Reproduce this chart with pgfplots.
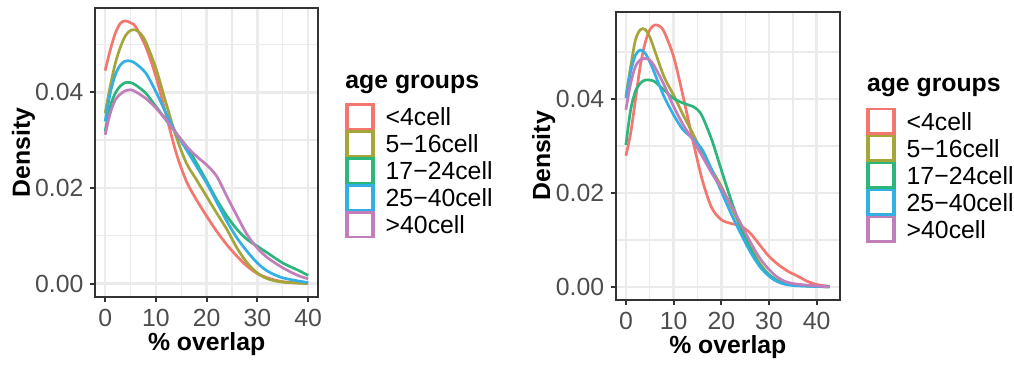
\documentclass[border=0pt]{standalone}
\usepackage{fontspec}
\setmainfont{Liberation Sans}
\usepackage{pgfplots}
\pgfplotsset{compat=1.18}
\definecolor{cA}{HTML}{F3776E}
\definecolor{cB}{HTML}{A4A63A}
\definecolor{cC}{HTML}{2DB67B}
\definecolor{cD}{HTML}{33AFE4}
\definecolor{cE}{HTML}{C27DBB}
\definecolor{gridc}{HTML}{EBEBEB}
\definecolor{bord}{HTML}{333333}
\definecolor{tickt}{HTML}{4D4D4D}
\newcommand{\fs}{\fontsize{12.4}{14}\selectfont}
\pgfplotsset{
  dens/.style={
    scale only axis,
    axis line style={bord, line width=1pt},
    tick style={bord, line width=1pt},
    tick align=outside,
    major tick length=2.5pt,
    minor tick length=0pt,
    xtick={0,10,20,30,40},
    minor xtick={5,15,25,35},
    ytick={0,0.02,0.04},
    minor ytick={0.01,0.03,0.05},
    grid=both,
    major grid style={gridc, line width=1.35pt},
    minor grid style={gridc, line width=0.65pt},
    tick pos=left,
    scaled y ticks=false,
    /pgf/number format/assume math mode=true,
    yticklabel style={/pgf/number format/fixed, /pgf/number format/fixed zerofill, /pgf/number format/precision=2, anchor=east, inner sep=0pt, xshift=-3.1pt},
    xticklabel style={anchor=north, inner sep=0pt, yshift=-3.3pt},
    ticklabel style={font=\fs, text=tickt},
    no markers,
    every axis plot/.append style={line width=1.35pt, smooth},
    legend style={draw=none, fill=none, inner sep=0pt, outer sep=0pt, row sep=0pt, column sep=5.5pt, font=\fs, anchor=north west, nodes={inner sep=0pt, outer sep=0pt, text depth=0pt}},
    legend cell align=left,
    legend image code/.code={\path (0pt,-6pt) rectangle (13.5pt,6pt); \draw[#1, fill=white, line width=1.2pt] (0.6pt,-6.15pt) rectangle (12.9pt,6.15pt);},
  }
}
\begin{document}
\begin{tikzpicture}
\useasboundingbox (0,0) rectangle (507pt,-182.5pt);
% ---------------- left panel ----------------
\begin{axis}[dens,
  at={(47.5pt,-148.35pt)}, anchor=south west,
  width=111.65pt, height=144.2pt,
  xmin=-2.0, xmax=42.0, ymin=-0.00274, ymax=0.05753,
  xlabel={\% overlap}, ylabel={Density},
  every axis x label/.style={at={(axis description cs:0.5,-0.123)}, anchor=north, inner sep=0pt, font=\fs\bfseries},
  every axis y label/.style={at={(axis description cs:-0.3735,0.5)}, rotate=90, anchor=north, inner sep=0pt, font=\fs\bfseries},
  legend style={at={(axis description cs:1.1196,0.6706)}},
]
\addplot[cA] table {
0 0.0445
1 0.0488
2 0.0523
3 0.0544
4 0.0549
5 0.0545
6 0.0537
8 0.0495
10 0.0433
12 0.0353
14 0.0273
16 0.0214
18 0.0175
20 0.0141
22 0.0109
24 0.0081
26 0.0057
28 0.0036
30 0.0021
32 0.0012
35 0.0004
40 0.0000
};
\addlegendentry{<4cell}
\addplot[cB] table {
0 0.0356
1 0.0412
2 0.0460
3 0.0494
4 0.0518
5 0.0529
6 0.0530
7 0.0522
8 0.0505
10 0.0450
12 0.0377
14 0.0307
16 0.0252
18 0.0217
20 0.0182
22 0.0147
24 0.0113
26 0.0074
28 0.0043
30 0.0022
32 0.0010
35 0.0003
40 0.0000
};
\addlegendentry{5−16cell}
\addplot[cC] table {
0 0.0318
1 0.0370
2 0.0398
3 0.0413
4 0.0420
5 0.0420
6 0.0415
8 0.0398
10 0.0370
12 0.0342
14 0.0314
16 0.0287
18 0.0252
20 0.0214
22 0.0175
24 0.0141
26 0.0113
28 0.0092
30 0.0078
32 0.0064
35 0.0043
38 0.0028
40 0.0017
};
\addlegendentry{17−24cell}
\addplot[cD] table {
0 0.0339
1 0.0398
2 0.0436
3 0.0457
4 0.0465
5 0.0465
6 0.0460
8 0.0440
10 0.0401
12 0.0356
14 0.0314
16 0.0280
18 0.0245
20 0.0210
22 0.0170
24 0.0130
26 0.0095
28 0.0067
30 0.0043
32 0.0026
35 0.0012
40 0.0002
};
\addlegendentry{25−40cell}
\addplot[cE] table {
0 0.0311
1 0.0356
2 0.0384
3 0.0396
4 0.0403
5 0.0405
6 0.0401
8 0.0387
10 0.0367
12 0.0342
14 0.0314
16 0.0287
18 0.0266
20 0.0248
22 0.0224
24 0.0182
26 0.0141
28 0.0102
30 0.0074
32 0.0054
35 0.0033
38 0.0017
40 0.0010
};
\addlegendentry{>40cell}
\end{axis}
\node[anchor=base west, inner sep=0pt, font=\fs\bfseries] at (172.5pt,-44.15pt) {age groups};
% ---------------- right panel ----------------
\begin{axis}[dens,
  at={(307.85pt,-150pt)}, anchor=south west,
  width=112.15pt, height=144.15pt,
  xmin=-2.137, xmax=44.88, ymin=-0.00279, ymax=0.05855,
  xlabel={\% overlap}, ylabel={Density},
  every axis x label/.style={at={(axis description cs:0.5,-0.123)}, anchor=north, inner sep=0pt, font=\fs\bfseries},
  every axis y label/.style={at={(axis description cs:-0.3745,0.5)}, rotate=90, anchor=north, inner sep=0pt, font=\fs\bfseries},
  legend style={at={(axis description cs:1.1159,0.667)}},
]
\addplot[cA] table {
0 0.0279
1 0.0327
2 0.0398
3 0.0469
4 0.0518
5 0.0547
6 0.0557
7 0.0555
8 0.0543
10 0.0490
12 0.0405
14 0.0313
16 0.0228
18 0.0168
20 0.0143
22 0.0135
24 0.0130
26 0.0115
28 0.0090
30 0.0065
32 0.0047
34 0.0033
36 0.0023
38 0.0012
40 0.0005
42.74 0.0001
};
\addlegendentry{<4cell}
\addplot[cB] table {
0 0.0405
1 0.0469
2 0.0525
3 0.0547
4 0.0548
5 0.0532
6 0.0504
8 0.0447
10 0.0408
12 0.0366
14 0.0327
16 0.0285
18 0.0249
20 0.0214
22 0.0171
24 0.0129
26 0.0086
28 0.0051
30 0.0026
32 0.0012
35 0.0004
42.74 0.0000
};
\addlegendentry{5−16cell}
\addplot[cC] table {
0 0.0302
1 0.0377
2 0.0416
3 0.0433
4 0.0440
5 0.0440
6 0.0437
8 0.0419
10 0.0401
12 0.0391
14 0.0384
15 0.0377
16 0.0363
18 0.0313
20 0.0249
22 0.0186
24 0.0129
26 0.0083
28 0.0047
30 0.0026
32 0.0012
35 0.0004
42.74 0.0000
};
\addlegendentry{17−24cell}
\addplot[cD] table {
0 0.0401
1 0.0458
2 0.0493
3 0.0504
4 0.0498
5 0.0479
6 0.0455
8 0.0405
10 0.0366
12 0.0334
14 0.0316
16 0.0292
18 0.0249
20 0.0203
22 0.0157
24 0.0115
26 0.0076
28 0.0044
30 0.0023
32 0.0010
35 0.0003
42.74 0.0000
};
\addlegendentry{25−40cell}
\addplot[cE] table {
0 0.0377
1 0.0433
2 0.0469
3 0.0483
4 0.0486
5 0.0483
6 0.0469
8 0.0430
10 0.0384
12 0.0345
14 0.0313
16 0.0278
18 0.0242
20 0.0210
22 0.0175
24 0.0136
26 0.0097
28 0.0062
30 0.0037
32 0.0019
35 0.0007
42.74 0.0000
};
\addlegendentry{>40cell}
\end{axis}
\node[anchor=base west, inner sep=0pt, font=\fs\bfseries] at (433.3pt,-45.85pt) {age groups};
\end{tikzpicture}
\end{document}
